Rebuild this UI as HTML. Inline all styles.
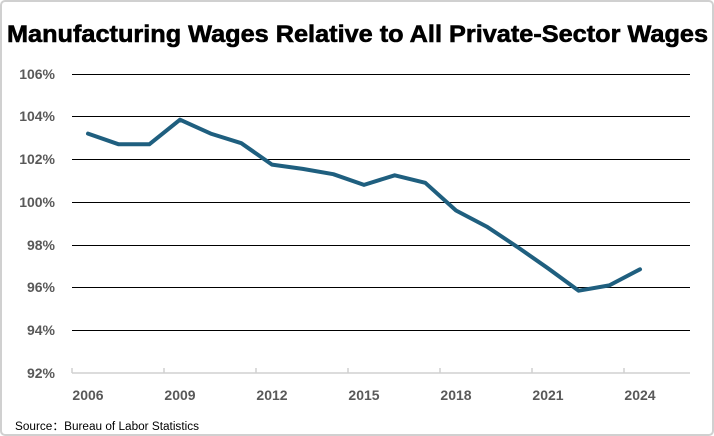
<!DOCTYPE html>
<html><head><meta charset="utf-8"><style>
html,body{margin:0;padding:0;background:#fff}
svg{display:block}
</style></head><body>
<svg width="714" height="436" viewBox="0 0 714 436" xmlns="http://www.w3.org/2000/svg">
<rect x="1" y="1" width="712" height="434" rx="4" fill="#fff" stroke="#d0d0d0" stroke-width="2"/>
<text x="7" y="42" textLength="701" lengthAdjust="spacingAndGlyphs" font-family="Liberation Sans, sans-serif" font-weight="bold" font-size="24" fill="#000" stroke="#000" stroke-width="0.6">Manufacturing Wages Relative to All Private-Sector Wages</text>
<g stroke="#000" stroke-width="1">
<line x1="72" x2="690" y1="74.5" y2="74.5"/>
<line x1="72" x2="690" y1="116.5" y2="116.5"/>
<line x1="72" x2="690" y1="159.5" y2="159.5"/>
<line x1="72" x2="690" y1="202.5" y2="202.5"/>
<line x1="72" x2="690" y1="245.5" y2="245.5"/>
<line x1="72" x2="690" y1="287.5" y2="287.5"/>
<line x1="72" x2="690" y1="330.5" y2="330.5"/>
</g>
<g stroke="#d0d0d0" stroke-width="1.5">
<line x1="72" x2="690" y1="373" y2="373"/>
<line x1="72" x2="72" y1="368" y2="373"/>
<line x1="164" x2="164" y1="368" y2="373"/>
<line x1="256" x2="256" y1="368" y2="373"/>
<line x1="348" x2="348" y1="368" y2="373"/>
<line x1="440" x2="440" y1="368" y2="373"/>
<line x1="532" x2="532" y1="368" y2="373"/>
<line x1="624" x2="624" y1="368" y2="373"/>
</g>
<g font-family="Liberation Sans, sans-serif" font-weight="bold" font-size="14" fill="#595959" text-anchor="end">
<text x="55" y="79">106%</text>
<text x="55" y="121">104%</text>
<text x="55" y="164">102%</text>
<text x="55" y="207">100%</text>
<text x="55" y="250">98%</text>
<text x="55" y="292">96%</text>
<text x="55" y="335">94%</text>
<text x="55" y="378">92%</text>
</g>
<g font-family="Liberation Sans, sans-serif" font-weight="bold" font-size="14" fill="#595959" text-anchor="middle">
<text x="88" y="400">2006</text>
<text x="180" y="400">2009</text>
<text x="272" y="400">2012</text>
<text x="364" y="400">2015</text>
<text x="456" y="400">2018</text>
<text x="548" y="400">2021</text>
<text x="640" y="400">2024</text>
</g>
<polyline fill="none" stroke="#1f5f7f" stroke-width="4" stroke-linejoin="round" stroke-linecap="round" points="88,133.6 118.7,144.3 149.3,144.3 180,119.7 210.7,133.6 241.3,143.2 272,164.6 302.7,168.9 333.3,174.2 364,184.9 394.7,175.3 425.3,182.8 456,210.5 486.7,226.6 517.3,246.9 548,268.3 578.7,290.7 609.3,285.4 640,269.3"/>
<text x="15" y="430" textLength="184" lengthAdjust="spacingAndGlyphs" font-family="Liberation Sans, 'Noto Sans CJK SC', sans-serif" font-size="11.5" fill="#000">Source：Bureau of Labor Statistics</text>
</svg>
</body></html>
